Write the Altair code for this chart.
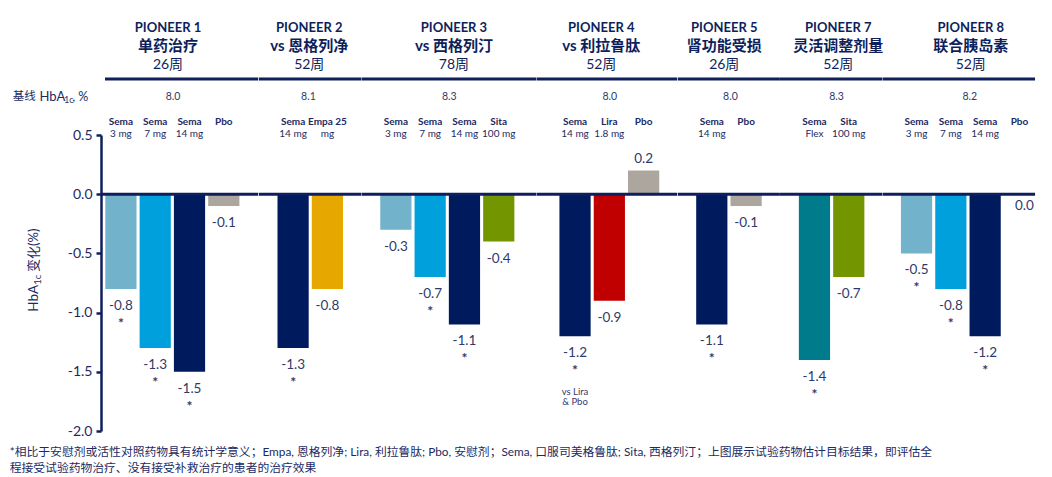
import altair as alt
import pandas as pd

# ---------------- data ----------------
trial_names = ["PIONEER 1", "PIONEER 2", "PIONEER 3", "PIONEER 4", "PIONEER 5", "PIONEER 7", "PIONEER 8"]
trial_designs = ["单药治疗", "vs 恩格列净", "vs 西格列汀", "vs 利拉鲁肽", "肾功能受损", "灵活调整剂量", "联合胰岛素"]
trial_durations = ["26周", "52周", "78周", "52周", "26周", "52周", "52周"]
baseline_hba1c = [8.0, 8.1, 8.3, 8.0, 8.0, 8.3, 8.2]

arm_trial = (["PIONEER 1"] * 4 + ["PIONEER 2"] * 2 + ["PIONEER 3"] * 4 + ["PIONEER 4"] * 3
             + ["PIONEER 5"] * 2 + ["PIONEER 7"] * 2 + ["PIONEER 8"] * 4)
arm_name = ["Sema", "Sema", "Sema", "Pbo",
            "Sema", "Empa 25",
            "Sema", "Sema", "Sema", "Sita",
            "Sema", "Lira", "Pbo",
            "Sema", "Pbo",
            "Sema", "Sita",
            "Sema", "Sema", "Sema", "Pbo"]
arm_dose = ["3 mg", "7 mg", "14 mg", "",
            "14 mg", "mg",
            "3 mg", "7 mg", "14 mg", "100 mg",
            "14 mg", "1.8 mg", "",
            "14 mg", "",
            "Flex", "100 mg",
            "3 mg", "7 mg", "14 mg", ""]
arm_treatment = ["Sema 3 mg", "Sema 7 mg", "Sema 14 mg", "Pbo",
                 "Sema 14 mg", "Empa",
                 "Sema 3 mg", "Sema 7 mg", "Sema 14 mg", "Sita",
                 "Sema 14 mg", "Lira", "Pbo",
                 "Sema 14 mg", "Pbo",
                 "Sema Flex", "Sita",
                 "Sema 3 mg", "Sema 7 mg", "Sema 14 mg", "Pbo"]
hba1c_change = [-0.8, -1.3, -1.5, -0.1,
                -1.3, -0.8,
                -0.3, -0.7, -1.1, -0.4,
                -1.2, -0.9, 0.2,
                -1.1, -0.1,
                -1.4, -0.7,
                -0.5, -0.8, -1.2, 0.0]
significant = [1, 1, 1, 0,
               1, 0,
               0, 1, 1, 0,
               1, 0, 0,
               1, 0,
               1, 0,
               1, 1, 1, 0]
arm_note = ["", "", "", "",
            "", "",
            "", "", "", "",
            "vs Lira\n& Pbo", "", "",
            "", "",
            "", "",
            "", "", "", ""]

treatments = ["Sema 3 mg", "Sema 7 mg", "Sema 14 mg", "Sema Flex", "Pbo", "Empa", "Sita", "Lira"]
treatment_colors = ["#73b2cb", "#00a0dc", "#001a5e", "#007b8c", "#ada69f", "#e6a800", "#739600", "#c00000"]

footnote = ["*相比于安慰剂或活性对照药物具有统计学意义；Empa, 恩格列净; Lira, 利拉鲁肽; Pbo, 安慰剂；Sema, 口服司美格鲁肽; Sita, 西格列汀；上图展示试验药物估计目标结果，即评估全",
            "程接受试验药物治疗、没有接受补救治疗的患者的治疗效果"]

# ---------------- styling / layout ----------------
FONT = "Lato, 'Noto Sans CJK SC', sans-serif"
NAVY = "#0e1f5b"
TXT = "#1c2a62"
LBL = "#2f3a69"

STEP = 34.3
PAD_IN = 0.09
PLOT_H = 296
TS = 1.5  # vertical nudge for middle-baseline texts
panel_edges = [100, 257.25, 359.75, 534.25, 674.55, 776.45, 878.95, 1031]
bar_align = [0.186, 0.5, 0.452, 0.554, 0.5, 0.51, 1.0]
header_cx = [167, 307.5, 451.7, 598.5, 720.8, 834.7, 966.7]
baseline_cx = [172, 306.7, 447, 607, 727, 833, 965.7]

df = pd.DataFrame({
    "trial": arm_trial, "name": arm_name, "dose": arm_dose,
    "treatment": arm_treatment, "change": hba1c_change,
    "sig": significant, "note": arm_note,
})
df["key"] = (df["name"] + " " + df["dose"]).str.strip()
df["label"] = [f"{v:.1f}" for v in df["change"]]

yscale = alt.Scale(domain=[-2.0, 0.5], nice=False)
yaxis = alt.Axis(values=[0.5, 0.0, -0.5, -1.0, -1.5, -2.0], title=None, grid=False,
                 domainColor=NAVY, domainWidth=2.5, tickColor=NAVY, tickWidth=2.5, tickSize=5,
                 labelFontSize=14, labelColor=TXT, labelPadding=4, labelFont=FONT,
                 labelExpr="replace(format(datum.value, '.1f'), '\\u2212', '-')")
cscale = alt.Scale(domain=treatments, range=treatment_colors)


def panel(i):
    x0, x1 = panel_edges[i], panel_edges[i + 1]
    W = x1 - x0
    sub = df[df["trial"] == trial_names[i]].reset_index(drop=True)
    keys = list(sub["key"])
    n = len(keys)
    po = (W / STEP - n + PAD_IN) / 2
    X = alt.X("key:N", axis=None,
              scale=alt.Scale(domain=keys, paddingInner=PAD_IN, paddingOuter=po, align=bar_align[i]))
    Y = alt.Y("change:Q", scale=yscale, axis=yaxis if i == 0 else None)
    arms = alt.Chart(sub)
    txt = dict(font=FONT, baseline="middle", align="center")

    layers = [
        arms.mark_bar().encode(x=X, y=Y, color=alt.Color("treatment:N", scale=cscale, legend=None)),
        alt.Chart(pd.DataFrame({"change": [0.0]})).mark_rule(color=NAVY, strokeWidth=3).encode(
            x=alt.value(0), x2=alt.value(W), y=Y),
        alt.Chart(pd.DataFrame({"change": [0.0]})).mark_rule(color=NAVY, strokeWidth=3).encode(
            x=alt.value(4 if i == 0 else 0), x2=alt.value(W), y=alt.value(-56)),
        # value labels
        arms.transform_filter("datum.change < 0").mark_text(dy=15.5 + TS, fontSize=13.5, color=LBL, **txt).encode(
            x=X, y=Y, text="label:N"),
        arms.transform_filter("datum.change > 0").mark_text(dy=-13 + TS, fontSize=13.5, color=LBL, **txt).encode(
            x=X, y=Y, text="label:N"),
        arms.transform_filter("datum.change == 0").mark_text(dy=10.5 + TS, dx=5, fontSize=13.5, color=LBL,
                                                              **txt).encode(x=X, y=Y, text="label:N"),
        # significance stars
        arms.transform_filter("datum.sig == 1").mark_text(text="*", dy=35, fontSize=14, fontWeight="bold",
                                                           color=LBL, **txt).encode(x=X, y=Y),
        # notes
        arms.transform_filter("datum.note != ''").mark_text(dy=55.5, fontSize=9.5, lineBreak="\n", lineHeight=10,
                                                             color=LBL, **txt).encode(x=X, y=Y, text="note:N"),
        # arm labels
        arms.mark_text(fontSize=10, fontWeight="bold", color=TXT, **txt).encode(
            x=X, y=alt.value(-15 + TS), text="name:N"),
        arms.mark_text(fontSize=10, color=TXT, **txt).encode(
            x=X, y=alt.value(-2.7 + TS), text="dose:N"),
    ]

    hdr = alt.Chart(pd.DataFrame({
        "t": [trial_names[i]], "d": [trial_designs[i]], "w": [trial_durations[i]],
        "b": [f"{baseline_hba1c[i]:.1f}"],
    }))
    hx = alt.value(header_cx[i] - x0)
    layers += [
        hdr.mark_text(fontSize=13, fontWeight="bold", color=NAVY, **txt).encode(
            x=hx, y=alt.value(-110 + TS + 1.5), text="t:N"),
        hdr.mark_text(fontSize=15, fontWeight="bold", color=NAVY, **txt).encode(
            x=hx, y=alt.value(-91.7 + TS + 1), text="d:N"),
        hdr.mark_text(fontSize=14, color=NAVY, **txt).encode(
            x=hx, y=alt.value(-72.7 + TS + 1), text="w:N"),
        hdr.mark_text(fontSize=10.5, color=LBL, **txt).encode(
            x=alt.value(baseline_cx[i] - x0), y=alt.value(-40 + TS), text="b:N"),
    ]

    if i == 0:
        base_lbl = alt.Chart(pd.DataFrame({"a": ["基线"], "h": ["HbA"], "s": ["1c"], "p": [", %"]}))
        lt = dict(font=FONT, baseline="middle", align="left", color=TXT)
        layers += [
            base_lbl.mark_text(fontSize=11.5, **lt).encode(x=alt.value(-88.3), y=alt.value(-40 + TS), text="a:N"),
            base_lbl.mark_text(fontSize=13, **lt).encode(x=alt.value(-61.5), y=alt.value(-40 + TS), text="h:N"),
            base_lbl.mark_text(fontSize=8.5, **lt).encode(x=alt.value(-36.8), y=alt.value(-36.5 + TS), text="s:N"),
            base_lbl.mark_text(fontSize=12.5, **lt).encode(x=alt.value(-28.7), y=alt.value(-40 + TS), text="p:N"),
        ]
        ax_lbl = alt.Chart(pd.DataFrame({"h": ["HbA"], "s": ["1c"], "r": ["变化(%)"]}))
        at = dict(font=FONT, baseline="middle", align="left", angle=270, color=TXT)
        layers += [
            ax_lbl.mark_text(fontSize=13.5, **at).encode(x=alt.value(-67), y=alt.value(176.7), text="h:N"),
            ax_lbl.mark_text(fontSize=9.5, **at).encode(x=alt.value(-63.5), y=alt.value(149.8), text="s:N"),
            ax_lbl.mark_text(fontSize=13, **at).encode(x=alt.value(-67), y=alt.value(137), text="r:N"),
        ]

    return alt.layer(*layers).properties(width=W, height=PLOT_H)


panels = [panel(i) for i in range(len(trial_names))]

chart = alt.hconcat(*panels, spacing=0, bounds="flush").properties(
    title=alt.TitleParams(text=footnote, orient="bottom", anchor="start", fontSize=11.8, fontWeight="normal",
                          color=TXT, font=FONT, lineHeight=15.7, offset=9, dx=-3),
    padding={"left": 1, "top": 14, "right": 0, "bottom": 0},
    background="white",
).configure(font=FONT).configure_view(stroke=None)

chart.save("out.html", embed_options={"renderer": "svg", "actions": False})
